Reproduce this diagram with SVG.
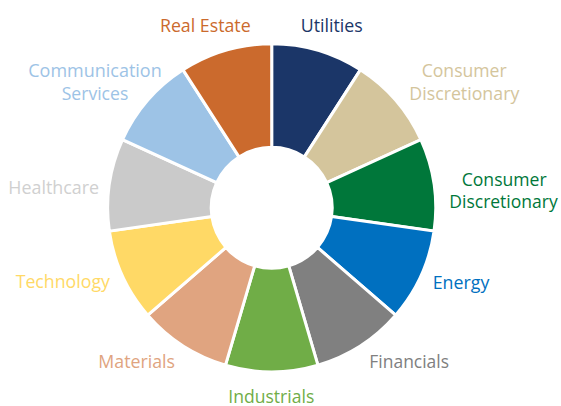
<svg xmlns="http://www.w3.org/2000/svg" width="561" height="406" viewBox="0 0 561 406">
<style>
.seg{stroke:#fff;stroke-width:3;stroke-linejoin:miter}
.lbl{font-family:"Open Sans","Noto Sans","DejaVu Sans",sans-serif;font-size:18.5px;text-anchor:middle}
</style>
<rect width="561" height="406" fill="#fff"/>
<g id="utilities"><path class="seg" fill="#1B3668" d="M271.7,43.8 A164,164 0 0 1 360.365,69.835 L304.409,156.904 A60.5,60.5 0 0 0 271.7,147.3 Z"/><text class="lbl" x="331.7" y="32.3" fill="#1B3668" textLength="62" lengthAdjust="spacingAndGlyphs">Utilities</text></g>
<g id="consumer-disc-tan"><path class="seg" fill="#D4C59C" d="M360.365,69.835 A164,164 0 0 1 420.879,139.671 L326.733,182.667 A60.5,60.5 0 0 0 304.409,156.904 Z"/><text class="lbl" fill="#D4C59C"><tspan x="464.2" y="77.3" textLength="85" lengthAdjust="spacingAndGlyphs">Consumer</tspan><tspan x="464.3" y="100" textLength="110" lengthAdjust="spacingAndGlyphs">Discretionary</tspan></text></g>
<g id="consumer-disc-green"><path class="seg" fill="#00773A" d="M420.879,139.671 A164,164 0 0 1 434.030,231.139 L331.584,216.410 A60.5,60.5 0 0 0 326.733,182.667 Z"/><text class="lbl" fill="#00773A"><tspan x="504.2" y="185.7" textLength="85" lengthAdjust="spacingAndGlyphs">Consumer</tspan><tspan x="503.5" y="207.7" textLength="108.4" lengthAdjust="spacingAndGlyphs">Discretionary</tspan></text></g>
<g id="energy"><path class="seg" fill="#0070C0" d="M434.030,231.139 A164,164 0 0 1 395.643,315.197 L317.423,247.419 A60.5,60.5 0 0 0 331.584,216.410 Z"/><text class="lbl" x="461" y="289" fill="#0070C0" textLength="56.6" lengthAdjust="spacingAndGlyphs">Energy</text></g>
<g id="financials"><path class="seg" fill="#808080" d="M395.643,315.197 A164,164 0 0 1 317.904,365.156 L288.745,265.849 A60.5,60.5 0 0 0 317.423,247.419 Z"/><text class="lbl" x="409.2" y="368.3" fill="#808080" textLength="79.7" lengthAdjust="spacingAndGlyphs">Financials</text></g>
<g id="industrials"><path class="seg" fill="#70AD47" d="M317.904,365.156 A164,164 0 0 1 225.496,365.156 L254.655,265.849 A60.5,60.5 0 0 0 288.745,265.849 Z"/><text class="lbl" x="271.3" y="402.5" fill="#70AD47" textLength="86" lengthAdjust="spacingAndGlyphs">Industrials</text></g>
<g id="materials"><path class="seg" fill="#E0A480" d="M225.496,365.156 A164,164 0 0 1 147.757,315.197 L225.977,247.419 A60.5,60.5 0 0 0 254.655,265.849 Z"/><text class="lbl" x="136.7" y="368.3" fill="#E0A480" textLength="76.7" lengthAdjust="spacingAndGlyphs">Materials</text></g>
<g id="technology"><path class="seg" fill="#FFD966" d="M147.757,315.197 A164,164 0 0 1 109.370,231.139 L211.816,216.410 A60.5,60.5 0 0 0 225.977,247.419 Z"/><text class="lbl" x="62.8" y="288.3" fill="#FFD966" textLength="94.3" lengthAdjust="spacingAndGlyphs">Technology</text></g>
<g id="healthcare"><path class="seg" fill="#CACACA" d="M109.370,231.139 A164,164 0 0 1 122.521,139.671 L216.667,182.667 A60.5,60.5 0 0 0 211.816,216.410 Z"/><text class="lbl" x="53.7" y="194" fill="#D0D0D0" textLength="90.7" lengthAdjust="spacingAndGlyphs">Healthcare</text></g>
<g id="communication-services"><path class="seg" fill="#9DC3E6" d="M122.521,139.671 A164,164 0 0 1 183.035,69.835 L238.991,156.904 A60.5,60.5 0 0 0 216.667,182.667 Z"/><text class="lbl" fill="#9DC3E6"><tspan x="95" y="77.3" textLength="133.4" lengthAdjust="spacingAndGlyphs">Communication</tspan><tspan x="95" y="100" textLength="66.6" lengthAdjust="spacingAndGlyphs">Services</tspan></text></g>
<g id="real-estate"><path class="seg" fill="#CB6A2D" d="M183.035,69.835 A164,164 0 0 1 271.7,43.8 L271.7,147.3 A60.5,60.5 0 0 0 238.991,156.904 Z"/><text class="lbl" x="205.3" y="32.3" fill="#CB6A2D" textLength="90.7" lengthAdjust="spacingAndGlyphs">Real Estate</text></g>
<g id="connectors"/>
</svg>
